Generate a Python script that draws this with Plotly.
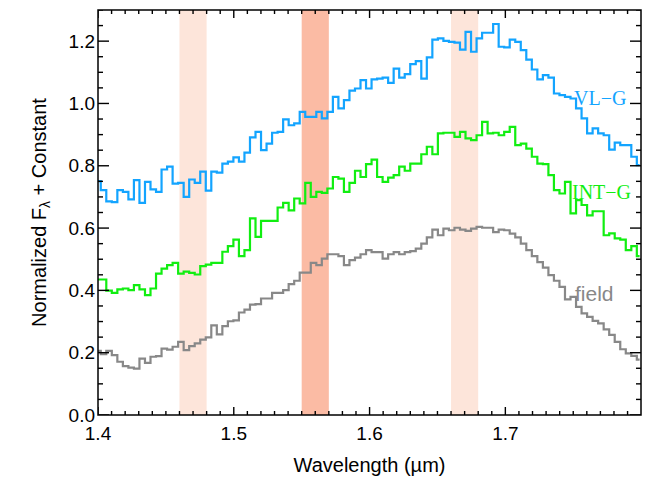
import plotly.graph_objects as go

# wavelength grid of the binned spectra (bin centres, microns)
wave_start = 1.400
wave_step = 0.00407

vlg_flux = [
    0.751, 0.722, 0.686, 0.683, 0.722, 0.716, 0.692, 0.754, 0.681, 0.748,
    0.724, 0.716, 0.788, 0.797, 0.743, 0.745, 0.700, 0.756, 0.745, 0.781,
    0.720, 0.781, 0.778, 0.807, 0.813, 0.827, 0.813, 0.842, 0.891, 0.909,
    0.850, 0.871, 0.906, 0.909, 0.949, 0.930, 0.936, 0.973, 0.957, 0.957,
    0.973, 0.952, 0.973, 1.021, 0.984, 1.011, 1.041, 1.048, 1.075, 1.048,
    1.077, 1.080, 1.083, 1.066, 1.112, 1.083, 1.094, 1.126, 1.136, 1.080,
    1.148, 1.205, 1.209, 1.201, 1.198, 1.195, 1.173, 1.230, 1.166, 1.209,
    1.227, 1.227, 1.255, 1.182, 1.180, 1.205, 1.198, 1.171, 1.141, 1.109,
    1.077, 1.091, 1.083, 1.032, 1.027, 1.021, 1.016, 0.984, 0.952, 0.904,
    0.920, 0.904, 0.898, 0.852, 0.874, 0.866, 0.866, 0.829, 0.802,
]

intg_flux = [
    0.435, 0.435, 0.399, 0.392, 0.403, 0.406, 0.401, 0.417, 0.403, 0.385,
    0.406, 0.454, 0.470, 0.481, 0.488, 0.454, 0.460, 0.456, 0.451, 0.478,
    0.483, 0.488, 0.488, 0.524, 0.542, 0.563, 0.510, 0.529, 0.631, 0.572,
    0.623, 0.623, 0.623, 0.666, 0.681, 0.657, 0.695, 0.679, 0.745, 0.700,
    0.716, 0.713, 0.727, 0.764, 0.759, 0.716, 0.745, 0.784, 0.764, 0.805,
    0.820, 0.764, 0.748, 0.762, 0.770, 0.797, 0.784, 0.807, 0.807, 0.837,
    0.861, 0.837, 0.904, 0.906, 0.906, 0.893, 0.909, 0.888, 0.882, 0.898,
    0.941, 0.904, 0.906, 0.898, 0.909, 0.925, 0.866, 0.871, 0.855, 0.829,
    0.807, 0.805, 0.770, 0.722, 0.711, 0.748, 0.647, 0.690, 0.674, 0.641,
    0.654, 0.654, 0.577, 0.583, 0.567, 0.563, 0.529, 0.542, 0.510,
]

field_flux = [
    0.206, 0.195, 0.206, 0.192, 0.171, 0.157, 0.152, 0.149, 0.181, 0.167,
    0.187, 0.189, 0.213, 0.210, 0.219, 0.235, 0.208, 0.221, 0.230, 0.242,
    0.249, 0.288, 0.259, 0.285, 0.301, 0.304, 0.329, 0.338, 0.354, 0.356,
    0.374, 0.374, 0.392, 0.392, 0.401, 0.420, 0.431, 0.457, 0.457, 0.488,
    0.481, 0.502, 0.516, 0.516, 0.510, 0.481, 0.497, 0.505, 0.516, 0.529,
    0.523, 0.523, 0.502, 0.516, 0.523, 0.516, 0.523, 0.526, 0.534, 0.550,
    0.570, 0.595, 0.577, 0.598, 0.593, 0.601, 0.595, 0.591, 0.598, 0.604,
    0.601, 0.601, 0.587, 0.595, 0.593, 0.582, 0.570, 0.550, 0.529, 0.510,
    0.491, 0.473, 0.449, 0.431, 0.411, 0.371, 0.379, 0.347, 0.326, 0.315,
    0.302, 0.294, 0.275, 0.257, 0.235, 0.211, 0.198, 0.190, 0.178,
]

# shaded wavelength windows (start, end, colour)
bands = [
    (1.46, 1.48, '#fde5da'),
    (1.55, 1.57, '#fbbba4'),
    (1.66, 1.68, '#fde5da'),
]

labels = ['VL\u2212G', 'INT\u2212G', 'field']
label_x = [1.770, 1.771, 1.766]
label_y = [1.019, 0.716, 0.391]
colors = ['#13a4ff', '#11ee11', '#888888']
label_fonts = ['Liberation Serif', 'Liberation Serif', 'Liberation Sans']
label_sizes = [20, 20, 21]

x_range = [1.4, 1.7999]
y_range = [0, 1.3]

# figure geometry (the page adds an 8px body margin, so the figure is 16px smaller than the window)
W, H = 638, 475
ML, MR, MT, MB = 90, 5, 2, 68
plot_w = W - ML - MR
plot_h = H - MT - MB

wave = [round(wave_start + wave_step * i, 5) for i in range(len(vlg_flux))]

fig = go.Figure()

for flux, name, col in zip([vlg_flux, intg_flux, field_flux], labels, colors):
    fig.add_trace(go.Scatter(
        x=wave,
        y=flux,
        mode='lines',
        line=dict(color=col, width=2.2, shape='hvh'),
        name=name,
        showlegend=False,
    ))

for x0, x1, c in bands:
    fig.add_shape(type='rect', xref='x', yref='paper', x0=x0, x1=x1, y0=0, y1=1,
                  fillcolor=c, line=dict(width=0), layer='below')

# tick marks drawn as shapes, on all four sides (IDL style, pointing inward)
tick = dict(color='black', width=1.4)
for i in range(140, 180):
    xv = i / 100
    ln = (8 if i % 10 == 0 else 4) / plot_h
    fig.add_shape(type='line', xref='x', yref='paper', x0=xv, x1=xv, y0=0, y1=ln, line=tick)
    fig.add_shape(type='line', xref='x', yref='paper', x0=xv, x1=xv, y0=1, y1=1 - ln, line=tick)
for j in range(0, 27):
    yv = j * 0.05
    ln = (11 if j % 4 == 0 else 5) / plot_w
    fig.add_shape(type='line', xref='paper', yref='y', x0=0, x1=ln, y0=yv, y1=yv, line=tick)
    fig.add_shape(type='line', xref='paper', yref='y', x0=1, x1=1 - ln, y0=yv, y1=yv, line=tick)

# plot frame
fig.add_shape(type='rect', xref='paper', yref='paper', x0=0, x1=1, y0=0, y1=1,
              line=dict(color='black', width=1.5), fillcolor='rgba(0,0,0,0)', layer='above')

for txt, x, y, col, fnt, sz in zip(labels, label_x, label_y, colors, label_fonts, label_sizes):
    fig.add_annotation(x=x, y=y, text=txt, showarrow=False,
                       font=dict(family=fnt, size=sz, color=col))

tick_font = dict(family='Liberation Sans, Arial, sans-serif', size=19, color='black')
title_font = dict(family='Liberation Sans, Arial, sans-serif', size=20, color='black')

fig.update_layout(
    xaxis=dict(
        range=x_range,
        tick0=1.4, dtick=0.1, tickformat='.1f',
        ticks='', showline=False, ticklabelstandoff=5,
        showgrid=False, zeroline=False, automargin=False,
        tickfont=tick_font,
        title=dict(text='Wavelength (\u00b5m)', font=title_font, standoff=14),
    ),
    yaxis=dict(
        range=y_range,
        tick0=0, dtick=0.2, tickformat='.1f',
        ticks='', showline=False, ticklabelstandoff=2,
        showgrid=False, zeroline=False, automargin=False,
        tickfont=tick_font,
        title=dict(text='Normalized F<sub>\u03bb</sub> + Constant', font=title_font, standoff=16),
    ),
    width=W, height=H,
    margin=dict(l=ML, r=MR, t=MT, b=MB),
    plot_bgcolor='white',
    paper_bgcolor='white',
)

fig.write_html('out.html')
